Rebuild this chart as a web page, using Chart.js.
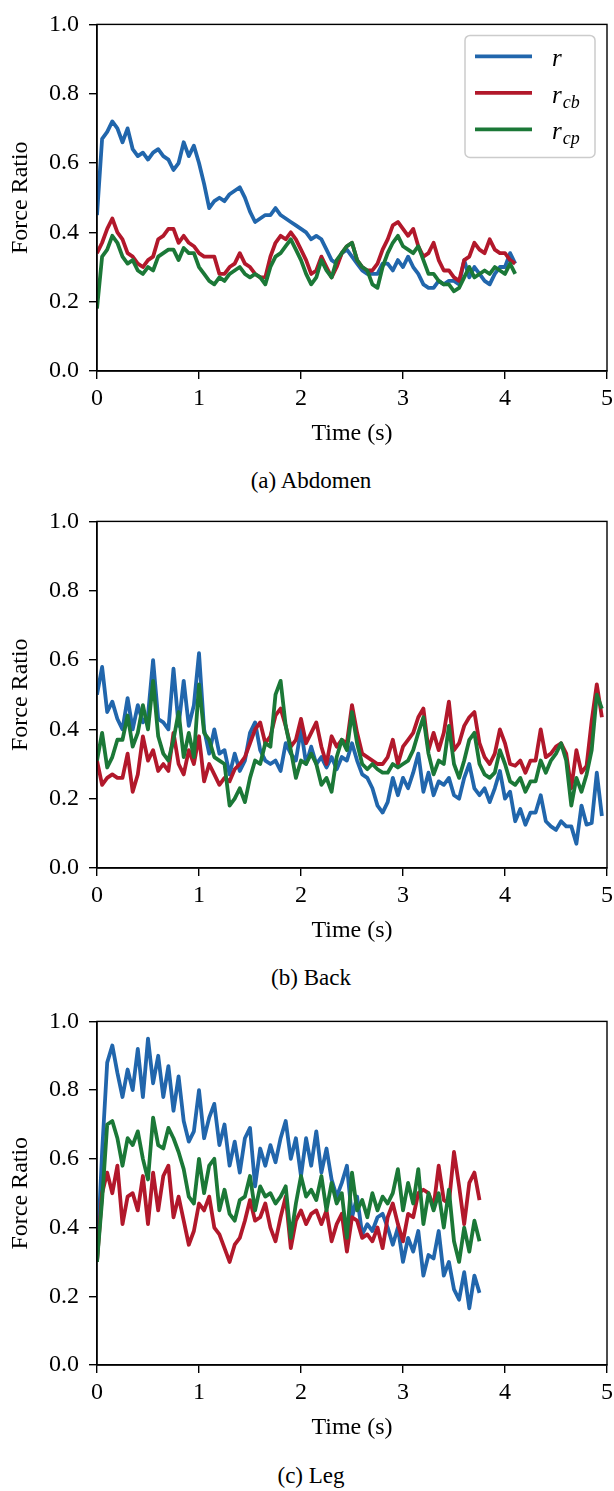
<!DOCTYPE html>
<html>
<head>
<meta charset="utf-8">
<script src="https://cdn.jsdelivr.net/npm/chart.js@4.4.1/dist/chart.umd.min.js"></script>
<style>
  body { margin: 0; background: #fff; }
  #page { position: relative; width: 614px; height: 1491px; }
  canvas { position: absolute; left: 0; }
  .caption {
    position: absolute; left: 311px; transform: translateX(-50%);
    font-family: 'Liberation Serif', serif; font-size: 23px; line-height: 1; white-space: nowrap; color: #000;
  }
  .preload { position: absolute; left: -999px; font-family: 'Liberation Serif'; font-size: 24px; }
</style>
</head>
<body>
<div id="page">
  <span class="preload">0.1 Force Ratio</span>
  <canvas id="abdomen" width="614" height="450" style="top:0px"></canvas>
  <div class="caption" style="top:469px">(a) Abdomen</div>
  <canvas id="back" width="614" height="450" style="top:497px"></canvas>
  <div class="caption" style="top:966px">(b) Back</div>
  <canvas id="leg" width="614" height="447" style="top:997px"></canvas>
  <div class="caption" style="top:1464px">(c) Leg</div>
</div>
<script>
// samples are 0.05 s apart, starting at t = 0
const STEP = 0.05;
const xTicks = [0, 1, 2, 3, 4, 5];
const yTicks = [0, 0.2, 0.4, 0.6, 0.8, 1.0];
const seriesNames = [['r', ''], ['r', 'cb'], ['r', 'cp']];
const seriesColors = ['#2166ac', '#b2182b', '#1b7837'];

// (a) Abdomen
const abdomenR = [0.45,0.67,0.69,0.72,0.70,0.66,0.70,0.64,0.62,0.63,
  0.61,0.63,0.64,0.62,0.61,0.58,0.60,0.66,0.62,0.65,
  0.60,0.54,0.47,0.49,0.50,0.49,0.51,0.52,0.53,0.50,
  0.46,0.43,0.44,0.45,0.45,0.47,0.45,0.44,0.43,0.42,
  0.41,0.40,0.38,0.39,0.38,0.35,0.32,0.31,0.34,0.35,
  0.33,0.31,0.29,0.28,0.28,0.28,0.31,0.31,0.29,0.32,
  0.30,0.33,0.30,0.28,0.25,0.24,0.24,0.26,0.25,0.26,
  0.26,0.25,0.32,0.27,0.30,0.28,0.26,0.25,0.28,0.30,
  0.30,0.34,0.31];
const abdomenRcb = [0.34,0.37,0.41,0.44,0.40,0.38,0.34,0.33,0.31,0.30,
  0.32,0.33,0.38,0.39,0.41,0.41,0.37,0.39,0.37,0.36,
  0.34,0.33,0.33,0.33,0.28,0.28,0.30,0.31,0.34,0.31,
  0.30,0.28,0.27,0.27,0.33,0.37,0.39,0.38,0.40,0.38,
  0.35,0.32,0.28,0.29,0.33,0.30,0.27,0.30,0.34,0.36,
  0.37,0.32,0.30,0.29,0.29,0.31,0.35,0.38,0.42,0.43,
  0.41,0.39,0.41,0.36,0.33,0.34,0.37,0.32,0.29,0.29,
  0.27,0.26,0.32,0.33,0.37,0.35,0.34,0.38,0.35,0.34,
  0.34,0.32,0.31];
const abdomenRcp = [0.18,0.33,0.35,0.39,0.37,0.33,0.31,0.32,0.29,0.28,
  0.30,0.29,0.33,0.34,0.35,0.35,0.32,0.355,0.34,0.34,
  0.30,0.28,0.26,0.25,0.27,0.26,0.28,0.29,0.30,0.28,
  0.27,0.28,0.27,0.25,0.30,0.33,0.34,0.36,0.38,0.35,
  0.32,0.28,0.25,0.27,0.32,0.29,0.27,0.32,0.34,0.36,
  0.37,0.32,0.30,0.29,0.25,0.24,0.30,0.34,0.37,0.39,
  0.36,0.35,0.34,0.36,0.32,0.28,0.28,0.26,0.25,0.25,
  0.23,0.24,0.27,0.30,0.27,0.28,0.29,0.28,0.30,0.29,
  0.28,0.31,0.28];

// (b) Back
const backR = [0.50,0.58,0.45,0.48,0.43,0.40,0.49,0.40,0.47,0.42,
  0.44,0.60,0.43,0.42,0.40,0.575,0.41,0.54,0.41,0.47,
  0.62,0.40,0.33,0.40,0.33,0.34,0.27,0.33,0.28,0.31,
  0.39,0.42,0.34,0.31,0.30,0.31,0.28,0.36,0.33,0.31,
  0.40,0.30,0.35,0.30,0.32,0.29,0.32,0.285,0.32,0.31,
  0.36,0.31,0.27,0.26,0.23,0.18,0.16,0.19,0.26,0.21,
  0.26,0.23,0.275,0.33,0.22,0.275,0.21,0.25,0.24,0.26,
  0.21,0.20,0.26,0.30,0.23,0.21,0.23,0.19,0.23,0.28,
  0.20,0.22,0.135,0.17,0.125,0.16,0.16,0.21,0.135,0.12,
  0.11,0.135,0.12,0.12,0.07,0.18,0.125,0.13,0.275,0.15];
const backRcb = [0.31,0.24,0.26,0.27,0.26,0.26,0.33,0.22,0.27,0.38,
  0.31,0.34,0.28,0.30,0.28,0.39,0.30,0.27,0.34,0.30,
  0.38,0.25,0.30,0.27,0.24,0.26,0.25,0.285,0.30,0.32,
  0.36,0.40,0.42,0.36,0.38,0.44,0.46,0.41,0.35,0.37,
  0.43,0.36,0.39,0.42,0.35,0.30,0.38,0.35,0.37,0.36,
  0.47,0.39,0.33,0.32,0.31,0.30,0.30,0.32,0.37,0.30,
  0.35,0.37,0.39,0.435,0.46,0.34,0.39,0.34,0.39,0.48,
  0.34,0.36,0.41,0.435,0.45,0.36,0.32,0.30,0.33,0.40,
  0.36,0.30,0.295,0.31,0.275,0.31,0.31,0.40,0.32,0.33,
  0.35,0.36,0.33,0.23,0.34,0.275,0.295,0.425,0.53,0.435];
const backRcp = [0.31,0.39,0.29,0.32,0.37,0.37,0.44,0.35,0.39,0.47,
  0.40,0.54,0.38,0.33,0.31,0.37,0.45,0.32,0.39,0.32,
  0.53,0.39,0.37,0.32,0.31,0.30,0.18,0.20,0.23,0.19,
  0.26,0.31,0.30,0.36,0.35,0.50,0.54,0.41,0.34,0.26,
  0.31,0.30,0.33,0.30,0.24,0.26,0.22,0.32,0.37,0.34,
  0.45,0.36,0.30,0.285,0.30,0.285,0.275,0.275,0.30,0.29,
  0.30,0.31,0.34,0.39,0.435,0.33,0.27,0.31,0.30,0.41,
  0.30,0.26,0.31,0.37,0.39,0.30,0.27,0.26,0.275,0.34,
  0.30,0.25,0.24,0.26,0.22,0.25,0.25,0.31,0.275,0.31,
  0.33,0.36,0.31,0.18,0.26,0.22,0.27,0.34,0.50,0.46];

// (c) Leg
const legR = [0.30,0.62,0.88,0.93,0.85,0.78,0.86,0.80,0.92,0.78,
  0.95,0.82,0.90,0.78,0.87,0.74,0.84,0.71,0.65,0.68,
  0.80,0.66,0.72,0.76,0.64,0.70,0.58,0.65,0.56,0.66,
  0.69,0.52,0.63,0.58,0.64,0.59,0.66,0.71,0.60,0.66,
  0.55,0.66,0.58,0.68,0.56,0.63,0.54,0.49,0.53,0.58,
  0.43,0.49,0.38,0.41,0.39,0.43,0.44,0.40,0.35,0.40,
  0.30,0.37,0.33,0.39,0.26,0.32,0.31,0.39,0.26,0.30,
  0.22,0.19,0.27,0.165,0.26,0.21];
const legRcb = [0.30,0.50,0.56,0.50,0.58,0.41,0.49,0.50,0.45,0.55,
  0.41,0.56,0.45,0.55,0.58,0.43,0.49,0.42,0.35,0.39,
  0.47,0.45,0.49,0.40,0.38,0.34,0.30,0.35,0.37,0.42,
  0.48,0.42,0.43,0.47,0.40,0.36,0.43,0.49,0.34,0.42,
  0.45,0.41,0.44,0.45,0.41,0.45,0.36,0.41,0.44,0.33,
  0.43,0.42,0.37,0.38,0.36,0.40,0.34,0.43,0.47,0.41,
  0.36,0.44,0.43,0.50,0.51,0.50,0.46,0.58,0.48,0.47,
  0.62,0.52,0.41,0.53,0.56,0.48];
const legRcp = [0.30,0.48,0.70,0.71,0.66,0.58,0.66,0.64,0.68,0.60,
  0.54,0.72,0.64,0.63,0.69,0.66,0.62,0.57,0.49,0.47,
  0.60,0.50,0.58,0.60,0.45,0.51,0.44,0.42,0.48,0.49,
  0.55,0.45,0.52,0.49,0.50,0.47,0.49,0.52,0.37,0.47,
  0.55,0.49,0.51,0.48,0.55,0.45,0.53,0.47,0.50,0.37,
  0.56,0.45,0.48,0.43,0.50,0.45,0.49,0.47,0.50,0.57,
  0.45,0.53,0.47,0.57,0.41,0.50,0.45,0.50,0.40,0.51,
  0.36,0.30,0.40,0.33,0.42,0.36];

const SERIF = "'Liberation Serif', 'Times New Roman', serif";
Chart.defaults.font.family = SERIF;
Chart.defaults.font.size = 24;
Chart.defaults.color = '#000';
const axisFont = { family: SERIF, size: 24 };

// closed box around the plot area (matplotlib style spines)
const framePlugin = {
  id: 'frame',
  afterDatasetsDraw(chart) {
    const { ctx, chartArea: a } = chart;
    ctx.save();
    ctx.strokeStyle = '#000';
    ctx.lineWidth = 1.4;
    ctx.strokeRect(a.left, a.top, a.right - a.left, a.bottom - a.top);
    ctx.restore();
  }
};

// legend with subscripts, chart.js legend can't do r_cb
const mathLegend = {
  id: 'mathLegend',
  afterDraw(chart, args, opts) {
    if (!opts.show) return;
    const { ctx, chartArea: a } = chart;
    const boxW = 130, boxH = 122;
    const bx = a.right - 12 - boxW, by = a.top + 11;
    ctx.save();
    ctx.fillStyle = 'rgba(255,255,255,0.8)';
    ctx.strokeStyle = '#cccccc';
    ctx.lineWidth = 1.5;
    ctx.beginPath();
    ctx.roundRect(bx, by, boxW, boxH, 5);
    ctx.fill();
    ctx.stroke();
    chart.data.datasets.forEach((ds, i) => {
      const y = by + 21 + i * 36.5;
      ctx.strokeStyle = ds.borderColor;
      ctx.lineWidth = 3.8;
      ctx.beginPath();
      ctx.moveTo(bx + 10, y);
      ctx.lineTo(bx + 67, y);
      ctx.stroke();
      const [main, sub] = seriesNames[i];
      ctx.fillStyle = '#000';
      ctx.font = "italic 25px " + SERIF;
      ctx.fillText(main, bx + 87, y + 10);
      const w = ctx.measureText(main).width;
      ctx.font = "italic 18px " + SERIF;
      ctx.fillText(sub, bx + 88 + w, y + 15);
    });
    ctx.restore();
  }
};

function makeChart(id, series, withLegend) {
  const datasets = series.map((vals, i) => ({
    label: seriesNames[i].join(''),
    data: vals.map((v, k) => ({ x: k * STEP, y: v })),
    borderColor: seriesColors[i],
    borderWidth: 3.8,
    pointRadius: 0,
    tension: 0,
    borderJoinStyle: 'round',
    order: series.length - i // r_cp ends up on top
  }));

  return new Chart(document.getElementById(id), {
    type: 'line',
    data: { datasets },
    plugins: [framePlugin, mathLegend],
    options: {
      responsive: false,
      animation: false,
      devicePixelRatio: 1,
      font: axisFont,
      layout: { padding: { top: 15, right: 7, bottom: 0, left: 0 } },
      plugins: {
        legend: { display: false },
        tooltip: { enabled: false },
        mathLegend: { show: withLegend }
      },
      scales: {
        x: {
          type: 'linear', min: 0, max: 5,
          afterBuildTicks: s => { s.ticks = xTicks.map(v => ({ value: v })); },
          afterFit: s => { s.height = 79; s.paddingLeft = 0; s.paddingRight = 0; },
          ticks: { color: '#000', font: axisFont, padding: 5, maxRotation: 0, callback: v => String(v) },
          grid: { drawOnChartArea: false, tickLength: 8, color: '#000', lineWidth: 1.4 },
          border: { color: '#000', width: 1.4 },
          title: { display: true, text: 'Time (s)', color: '#000', font: axisFont, padding: { top: 0, bottom: 2 } }
        },
        y: {
          min: 0, max: 1,
          afterBuildTicks: s => { s.ticks = yTicks.map(v => ({ value: v })); },
          afterFit: s => { s.width = 97; },
          ticks: { color: '#000', font: axisFont, padding: 10, callback: v => v.toFixed(1) },
          grid: { drawOnChartArea: false, tickLength: 8, color: '#000', lineWidth: 1.4 },
          border: { color: '#000', width: 1.4 },
          title: { display: true, text: 'Force Ratio', color: '#000', font: axisFont, padding: { top: 6, bottom: 0 } }
        }
      }
    }
  });
}

// canvas text needs the serif face loaded before the first draw
Promise.all([
  document.fonts.load("24px 'Liberation Serif'"),
  document.fonts.load("italic 25px 'Liberation Serif'")
]).catch(() => {}).then(() => {
  makeChart('abdomen', [abdomenR, abdomenRcb, abdomenRcp], true);
  makeChart('back', [backR, backRcb, backRcp], false);
  makeChart('leg', [legR, legRcb, legRcp], false);
});
</script>
</body>
</html>
